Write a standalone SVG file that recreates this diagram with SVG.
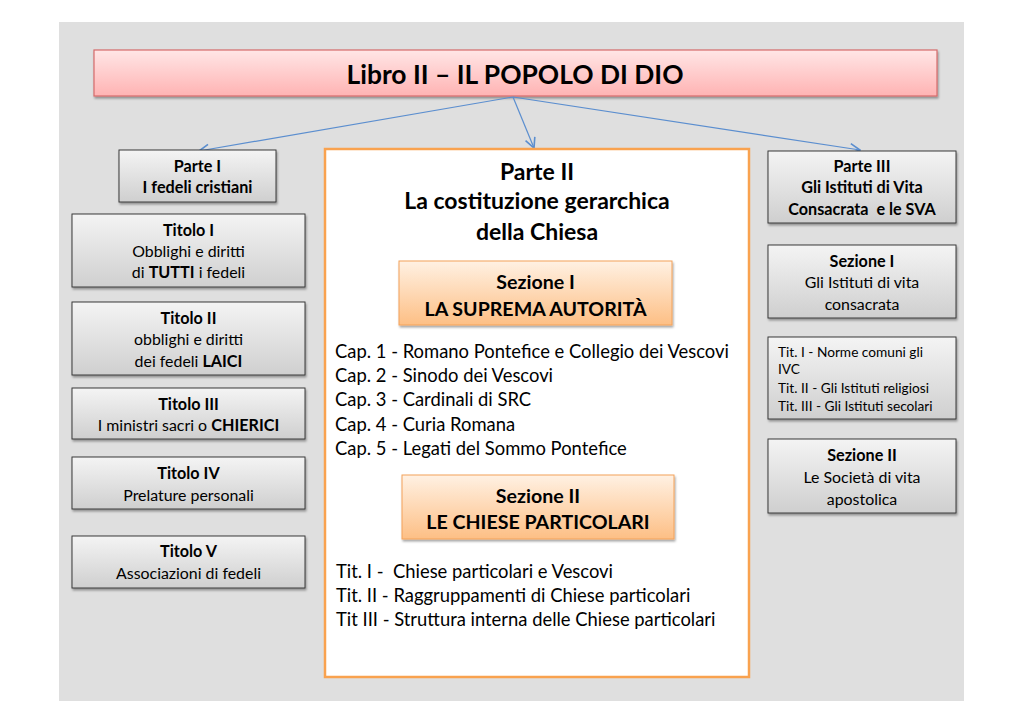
<svg xmlns="http://www.w3.org/2000/svg" width="1024" height="724" viewBox="0 0 1024 724">
<defs>
<linearGradient id="gGrey" x1="0" y1="0" x2="0" y2="1">
<stop offset="0" stop-color="#f4f4f4"/>
<stop offset="1" stop-color="#cfcfcf"/>
</linearGradient>
<linearGradient id="gRed" x1="0" y1="0" x2="0" y2="1">
<stop offset="0" stop-color="#ffe6e6"/>
<stop offset="1" stop-color="#ffb3b3"/>
</linearGradient>
<linearGradient id="gOrange" x1="0" y1="0" x2="0" y2="1">
<stop offset="0" stop-color="#fff1e3"/>
<stop offset="1" stop-color="#fdbf85"/>
</linearGradient>
<filter id="sh" x="-10%" y="-10%" width="120%" height="140%">
<feDropShadow dx="1" dy="2" stdDeviation="1.2" flood-color="#000" flood-opacity="0.35"/>
</filter>
<marker id="arr" viewBox="0 0 12 12" refX="11" refY="6" markerWidth="12" markerHeight="12" markerUnits="userSpaceOnUse" orient="auto">
<path d="M1,1 L11,6 L1,11" fill="none" stroke="#5b8ecf" stroke-width="1.6"/>
</marker>
<style>
text{font-family:Lato,"Open Sans","Liberation Sans",sans-serif;fill:#000}
.grey{fill:url(#gGrey);stroke:#3a3a3a;stroke-width:1;filter:url(#sh)}
.orange{fill:url(#gOrange);stroke:#f3a25a;stroke-width:1;filter:url(#sh)}
.c{text-anchor:middle}
.s15{font-size:15.9px}
.s15.b,.s15 .b{font-size:16.2px}
.b{font-weight:bold}
.s13{font-size:13.7px}
.s17{font-size:18.4px}
.sez{font-size:19.6px;font-weight:bold}
.p2{font-size:23px;font-weight:bold}
.conn{stroke:#5b8ecf;stroke-width:1.2;fill:none}
</style>
</defs>
<rect x="0" y="0" width="1024" height="724" fill="#ffffff"/>
<rect x="59" y="22" width="905" height="679" fill="#dfdfdf"/>

<g id="title">
<rect x="94" y="50" width="843" height="46" fill="url(#gRed)" stroke="#d66b6b" stroke-width="1.2" filter="url(#sh)"/>
<text x="515" y="84" class="c b" font-size="26.4">Libro II – IL POPOLO DI DIO</text>
</g>

<g id="connectors">
<line class="conn" x1="513" y1="97" x2="199" y2="151" marker-end="url(#arr)"/>
<line class="conn" x1="513" y1="97" x2="534" y2="148" marker-end="url(#arr)"/>
<line class="conn" x1="513" y1="97" x2="860" y2="150" marker-end="url(#arr)"/>
</g>

<g id="parte1">
<rect class="grey" x="119" y="150" width="157" height="52"/>
<text x="197.5" y="172" class="c b s15">Parte I</text>
<text x="197.5" y="193" class="c b s15">I fedeli cristiani</text>
</g>
<g id="titolo1">
<rect class="grey" x="72" y="214" width="233" height="73"/>
<text x="188.5" y="236" class="c b s15">Titolo I</text>
<text x="188.5" y="257" class="c s15">Obblighi e diritti</text>
<text x="188.5" y="278" class="c s15">di <tspan class="b">TUTTI</tspan> i fedeli</text>
</g>
<g id="titolo2">
<rect class="grey" x="72" y="302" width="233" height="73"/>
<text x="188.5" y="324" class="c b s15">Titolo II</text>
<text x="188.5" y="345" class="c s15">obblighi e diritti</text>
<text x="188.5" y="367" class="c s15">dei fedeli <tspan class="b">LAICI</tspan></text>
</g>
<g id="titolo3">
<rect class="grey" x="72" y="388" width="233" height="51"/>
<text x="188.5" y="410" class="c b s15">Titolo III</text>
<text x="188.5" y="431" class="c s15">I ministri sacri o <tspan class="b">CHIERICI</tspan></text>
</g>
<g id="titolo4">
<rect class="grey" x="72" y="457" width="233" height="52"/>
<text x="188.5" y="479" class="c b s15">Titolo IV</text>
<text x="188.5" y="501" class="c s15">Prelature personali</text>
</g>
<g id="titolo5">
<rect class="grey" x="72" y="536" width="233" height="52"/>
<text x="188.5" y="557" class="c b s15">Titolo V</text>
<text x="188.5" y="579" class="c s15">Associazioni di fedeli</text>
</g>

<g id="parte2">
<rect x="325" y="149" width="424" height="528" fill="#ffffff" stroke="#f9a24f" stroke-width="2.5"/>
<text x="537" y="180" class="c p2">Parte II</text>
<text x="537" y="209" class="c p2">La costituzione gerarchica</text>
<text x="537" y="240" class="c p2">della Chiesa</text>
</g>
<g id="sezione1">
<rect class="orange" x="399" y="261" width="273" height="64"/>
<text x="535.5" y="289" class="c sez">Sezione I</text>
<text x="535.5" y="316" class="c sez">LA SUPREMA AUTORITÀ</text>
</g>
<g id="capitoli">
<text x="335" y="358" class="s17">Cap. 1 - Romano Pontefice e Collegio dei Vescovi</text>
<text x="335" y="382" class="s17">Cap. 2 - Sinodo dei Vescovi</text>
<text x="335" y="406" class="s17">Cap. 3 - Cardinali di SRC</text>
<text x="335" y="431" class="s17">Cap. 4 - Curia Romana</text>
<text x="335" y="455" class="s17">Cap. 5 - Legati del Sommo Pontefice</text>
</g>
<g id="sezione2">
<rect class="orange" x="402" y="475" width="272" height="64"/>
<text x="538" y="503" class="c sez">Sezione II</text>
<text x="538" y="529" class="c sez">LE CHIESE PARTICOLARI</text>
</g>
<g id="titoli">
<text x="336" y="578" class="s17" xml:space="preserve">Tit. I -  Chiese particolari e Vescovi</text>
<text x="336" y="602" class="s17">Tit. II - Raggruppamenti di Chiese particolari</text>
<text x="336" y="626" class="s17">Tit III - Struttura interna delle Chiese particolari</text>
</g>

<g id="parte3">
<rect class="grey" x="768" y="151" width="188" height="72"/>
<text x="862" y="172" class="c b s15">Parte III</text>
<text x="862" y="193" class="c b s15">Gli Istituti di Vita</text>
<text x="862" y="215" class="c b s15" xml:space="preserve">Consacrata  e le SVA</text>
</g>
<g id="sez1ivc">
<rect class="grey" x="768" y="245" width="188" height="73"/>
<text x="862" y="267" class="c b s15">Sezione I</text>
<text x="862" y="288" class="c s15">Gli Istituti di vita</text>
<text x="862" y="310" class="c s15">consacrata</text>
</g>
<g id="titivc">
<rect class="grey" x="768" y="337" width="188" height="82"/>
<text x="778" y="357" class="s13">Tit. I - Norme comuni gli</text>
<text x="778" y="374" class="s13">IVC</text>
<text x="778" y="393" class="s13">Tit. II - Gli Istituti religiosi</text>
<text x="778" y="411" class="s13">Tit. III - Gli Istituti secolari</text>
</g>
<g id="sez2sva">
<rect class="grey" x="768" y="439" width="188" height="74"/>
<text x="862" y="461" class="c b s15">Sezione II</text>
<text x="862" y="483" class="c s15">Le Società di vita</text>
<text x="862" y="505" class="c s15">apostolica</text>
</g>
</svg>
